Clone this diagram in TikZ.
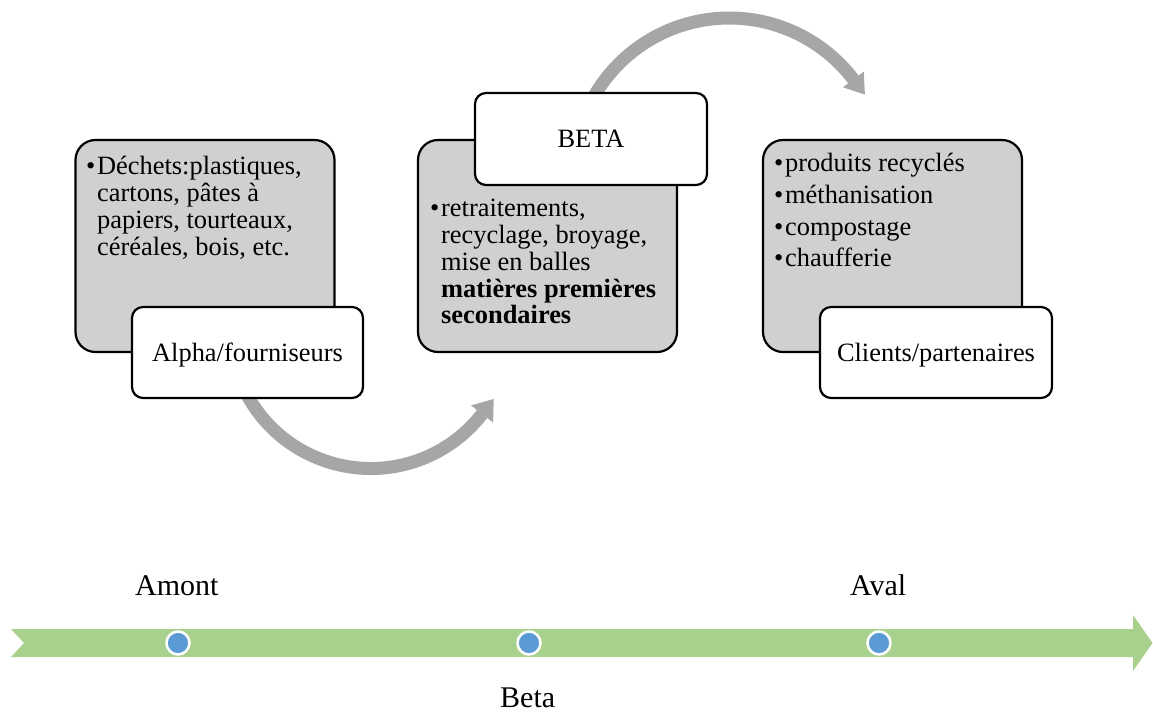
\documentclass[tikz,border=0pt]{standalone}
\usepackage{fontspec}
\setmainfont{Liberation Serif}
\usetikzlibrary{calc}
\definecolor{boxgray}{RGB}{208,208,208}
\definecolor{arrgray}{RGB}{166,166,166}
\definecolor{tlgreen}{RGB}{169,209,142}
\definecolor{dotblue}{RGB}{91,155,213}
\begin{document}
\begin{tikzpicture}[x=1pt,y=1pt,
  graybox/.style={draw=black, line width=2.2pt, fill=boxgray, rounded corners=20pt, minimum width=259pt, minimum height=212pt, inner sep=0pt},
  whitebox/.style={draw=black, line width=2.2pt, fill=white, rounded corners=11pt, minimum width=231pt, minimum height=91pt, inner sep=0pt, font=\fontsize{26.4}{27}\selectfont, text height=17pt, text depth=0pt},
  boxtext/.style={anchor=base west, inner sep=0pt},
  flow/.style={draw=arrgray, line width=13pt},
  flowhead/.style={fill=arrgray},
  tllabel/.style={anchor=base west, inner sep=0pt, font=\fontsize{30}{36}\selectfont},
  dot/.style={circle, fill=dotblue, draw=white, line width=2.5pt, minimum size=23pt, inner sep=0pt}
]
\useasboundingbox (0,0) rectangle (1153,713);

% timeline band
\path[fill=tlgreen] (11,84) -- (1133,84) -- (1133,98) -- (1152.5,70) -- (1133,42) -- (1133,56) -- (11,56) -- (24,70) -- cycle;
\node[dot] (d1) at (178,70) {};
\node[dot] (d2) at (529,70) {};
\node[dot] (d3) at (879,70) {};
\node[tllabel] (amont) at (135,118) {Amont};
\node[tllabel] (aval) at (850,118) {Aval};
\node[tllabel] (beta) at (500,6) {Beta};

% lower curved arrow
\coordinate (lc) at (370.8,385.3);
\draw[flow] ($(lc)+(207:140.8)$) arc[start angle=207, end angle=322.2, radius=140.8];
\coordinate (le) at ($(lc)+(322.2:140.8)$);
\fill[flowhead] ($(le)+(322.2:14)$) -- ($(le)+(52.2:19)$) -- ($(le)+(142.2:14)$) -- cycle;

% upper curved arrow
\coordinate (uc) at (729.3,539);
\draw[flow] ($(uc)+(152:156)$) arc[start angle=152, end angle=37.3, radius=156];
\coordinate (ue) at ($(uc)+(37.3:156)$);
\fill[flowhead] ($(ue)+(37.3:13)$) -- ($(ue)+(-52.7:19)$) -- ($(ue)+(217.3:13)$) -- cycle;

% gray boxes
\node[graybox] (g1) at (205,467) {};
\node[graybox] (g2) at (547.5,467) {};
\node[graybox] (g3) at (892.5,467) {};

\node[boxtext, font=\fontsize{26.4}{27}\selectfont] (t1) at (86,538)
  {\begin{tabular}[t]{@{}p{11pt}@{}l@{}}\textbullet & Déchets:plastiques,\\ & cartons, pâtes à\\ & papiers, tourteaux,\\ & céréales, bois, etc.\end{tabular}};
\node[boxtext, font=\fontsize{26.4}{26.7}\selectfont] (t2) at (430,496)
  {\begin{tabular}[t]{@{}p{11pt}@{}l@{}}\textbullet & retraitements,\\ & recyclage, broyage,\\ & mise en balles\\ & \textbf{matières premières}\\ & \textbf{secondaires}\end{tabular}};
\node[boxtext, font=\fontsize{26.4}{31.7}\selectfont] (t3) at (774,541.3)
  {\begin{tabular}[t]{@{}p{11pt}@{}l@{}}\textbullet & produits recyclés\\ \textbullet & méthanisation\\ \textbullet & compostage\\ \textbullet & chaufferie\end{tabular}};

% white label boxes
\node[whitebox] (w1) at (247.5,360.5) {Alpha/fourniseurs};
\node[whitebox, minimum width=232pt, minimum height=92pt] (w2) at (591,574) {BETA};
\node[whitebox, minimum width=232pt] (w3) at (936,360.5) {Clients/partenaires};
\end{tikzpicture}
\end{document}
